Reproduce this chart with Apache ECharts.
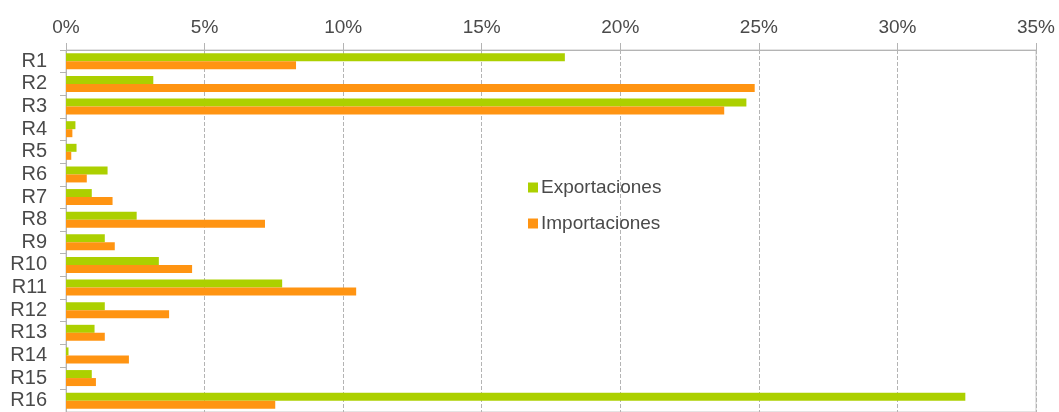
<!DOCTYPE html>
<html>
<head>
<meta charset="utf-8">
<script src="https://cdn.jsdelivr.net/npm/echarts@6/dist/echarts.min.js"></script>
<style>
  html, body { margin: 0; padding: 0; background: #fff; }
  #chart { width: 1059px; height: 412px; }
</style>
</head>
<body>
<div id="chart"></div>
<script>
// categories and values (percent)
var regiones = ['R1', 'R2', 'R3', 'R4', 'R5', 'R6', 'R7', 'R8', 'R9', 'R10', 'R11', 'R12', 'R13', 'R14', 'R15', 'R16'];
var exportaciones = [18.0, 3.15, 24.55, 0.34, 0.38, 1.5, 0.93, 2.55, 1.4, 3.35, 7.8, 1.4, 1.03, 0.09, 0.93, 32.45];
var importaciones = [8.3, 24.85, 23.75, 0.23, 0.19, 0.75, 1.68, 7.18, 1.76, 4.55, 10.47, 3.72, 1.4, 2.27, 1.08, 7.55];

document.addEventListener('DOMContentLoaded', function () {
  var chart = echarts.init(document.getElementById('chart'));
  var font = 'Liberation Sans, Arial, sans-serif';

  var option = {
    animation: false,
    grid: {
      left: 66, right: 23, top: 50, bottom: 0,
      show: true, borderColor: '#c8c8c8', borderWidth: 1
    },
    legend: {
      orient: 'vertical',
      left: 523, top: 173,
      icon: 'rect',
      itemWidth: 10, itemHeight: 10, itemGap: 17,
      textStyle: { fontFamily: font, fontSize: 19, color: '#4a4a4a', padding: [0, 0, 0, -2] },
      data: ['Exportaciones', 'Importaciones']
    },
    xAxis: {
      type: 'value',
      position: 'top',
      min: 0, max: 35, interval: 5,
      axisLine: { show: true, lineStyle: { color: '#b4b4b4' } },
      axisTick: { show: true, length: 7, lineStyle: { color: '#b4b4b4' } },
      axisLabel: {
        margin: 13,
        fontFamily: font, fontSize: 19, color: '#4a4a4a',
        formatter: '{value}%'
      },
      splitLine: { show: true, lineStyle: { color: '#b4b4b4', type: [4, 2] } }
    },
    yAxis: {
      type: 'category',
      inverse: true,
      data: regiones,
      axisLine: { show: true, lineStyle: { color: '#b4b4b4' } },
      axisTick: { show: true, length: 6, lineStyle: { color: '#b4b4b4' } },
      axisLabel: { interval: 0, margin: 19, fontFamily: font, fontSize: 20, color: '#4a4a4a' }
    },
    series: [
      {
        name: 'Exportaciones',
        type: 'bar',
        data: exportaciones,
        barWidth: 8,
        barGap: '0%',
        itemStyle: { color: '#acd000' }
      },
      {
        name: 'Importaciones',
        type: 'bar',
        data: importaciones,
        barWidth: 8,
        barGap: '0%',
        itemStyle: { color: '#ff9412' }
      }
    ]
  };
  chart.setOption(option);
});
</script>
</body>
</html>
